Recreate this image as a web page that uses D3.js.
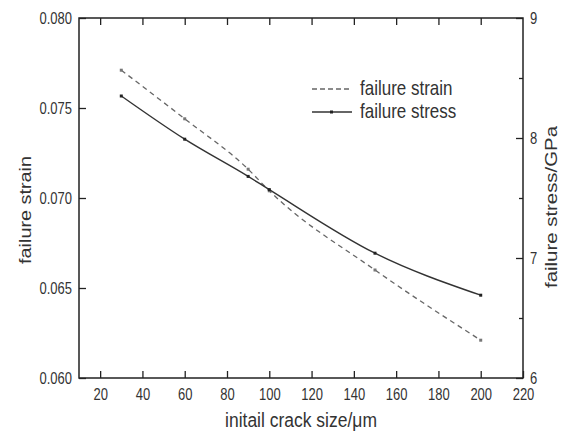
<!DOCTYPE html>
<html><head><meta charset="utf-8">
<script src="https://cdn.jsdelivr.net/npm/d3@7"></script>
<style>body{margin:0;background:#fff;} text{font-family:"Liberation Sans",Arial,sans-serif;fill:#333;}</style>
</head><body><svg id="c" width="563" height="435"></svg>
<script>
const crackSize = [30, 60, 90, 100, 150, 200];
const failureStrain = [0.0771, 0.0744, 0.0716, 0.0704, 0.0660, 0.0621];
const failureStress = [8.35, 7.99, 7.68, 7.57, 7.04, 6.69];
const xTicks = [20, 40, 60, 80, 100, 120, 140, 160, 180, 200, 220];
const yLeftTicks = [0.060, 0.065, 0.070, 0.075, 0.080];
const yRightTicks = [6, 7, 8, 9];
const yRightMinor = [6.5, 7.5, 8.5];
const seriesNames = ["failure strain", "failure stress"];

const svg = d3.select("#c");
const L = 79, R = 523, T = 18, B = 378;
const SY = 1.2; // vertical stretch of glyphs seen in the reference
const x = d3.scaleLinear().domain([10, 220]).range([L, R]);
const yL = d3.scaleLinear().domain([0.060, 0.080]).range([B, T]);
const yR = d3.scaleLinear().domain([6, 9]).range([B, T]);

svg.append("rect").attr("x", L).attr("y", T).attr("width", R - L).attr("height", B - T)
  .attr("fill", "none").attr("stroke", "#222").attr("stroke-width", 1.5);

function styleAxis(g) {
  g.select(".domain").remove();
  g.selectAll(".tick line").attr("stroke", "#222").attr("stroke-width", 1.3);
  g.selectAll(".tick text").attr("font-size", 13).attr("fill", "#333")
    .attr("font-family", "Liberation Sans, Arial, sans-serif");
}
function placeText(g, tx, ty) {
  g.selectAll(".tick text").attr("x", 0).attr("y", 0).attr("dy", 0)
    .attr("transform", `translate(${tx},${ty}) scale(1,${SY})`);
}
svg.append("g").attr("transform", `translate(0,${B})`)
  .call(d3.axisBottom(x).tickValues(xTicks).tickSizeInner(-7).tickSizeOuter(0).tickFormat(d3.format("d")))
  .call(styleAxis).call(g => placeText(g, 0, 22));
svg.append("g").attr("transform", `translate(0,${T})`)
  .call(d3.axisTop(x).tickValues(xTicks.filter(d => d < 220)).tickSizeInner(-7).tickSizeOuter(0).tickFormat(""))
  .call(styleAxis);
svg.append("g").attr("transform", `translate(${L},0)`)
  .call(d3.axisLeft(yL).tickValues(yLeftTicks).tickSizeInner(-7).tickSizeOuter(0).tickFormat(d3.format(".3f")))
  .call(styleAxis).call(g => placeText(g, -7, 5.5));
svg.append("g").attr("transform", `translate(${R},0)`)
  .call(d3.axisRight(yR).tickValues(yRightTicks).tickSizeInner(-7).tickSizeOuter(0).tickFormat(d3.format("d")))
  .call(styleAxis).call(g => placeText(g, 7, 5.5));
svg.append("g").attr("transform", `translate(${R},0)`)
  .call(d3.axisRight(yR).tickValues(yRightMinor).tickSizeInner(-4).tickSizeOuter(0).tickFormat(""))
  .call(styleAxis);

const strainPts = crackSize.map((c, i) => [c, failureStrain[i]]);
const stressPts = crackSize.map((c, i) => [c, failureStress[i]]);

svg.append("path").datum(strainPts)
  .attr("d", d3.line().x(d => x(d[0])).y(d => yL(d[1])).curve(d3.curveMonotoneX))
  .attr("fill", "none").attr("stroke", "#666").attr("stroke-width", 1.3).attr("stroke-dasharray", "5,4");
svg.selectAll(".ms").data(strainPts).enter().append("rect")
  .attr("x", d => x(d[0]) - 1.5).attr("y", d => yL(d[1]) - 1.5).attr("width", 3).attr("height", 3).attr("fill", "#777");

svg.append("path").datum(stressPts)
  .attr("d", d3.line().x(d => x(d[0])).y(d => yR(d[1])).curve(d3.curveMonotoneX))
  .attr("fill", "none").attr("stroke", "#333").attr("stroke-width", 1.4);
svg.selectAll(".mt").data(stressPts).enter().append("rect")
  .attr("x", d => x(d[0]) - 1.5).attr("y", d => yR(d[1]) - 1.5).attr("width", 3).attr("height", 3).attr("fill", "#222");

// legend
svg.append("line").attr("x1", 312).attr("x2", 352).attr("y1", 89).attr("y2", 89)
  .attr("stroke", "#666").attr("stroke-width", 1.3).attr("stroke-dasharray", "5,3");
svg.append("line").attr("x1", 312).attr("x2", 352).attr("y1", 112).attr("y2", 112)
  .attr("stroke", "#333").attr("stroke-width", 1.4);
svg.append("rect").attr("x", 330).attr("y", 110.5).attr("width", 3).attr("height", 3).attr("fill", "#222");
svg.append("text").attr("transform", `translate(360,95) scale(1,${SY})`).attr("font-size", 17).text(seriesNames[0]);
svg.append("text").attr("transform", `translate(360,118) scale(1,${SY})`).attr("font-size", 17).text(seriesNames[1]);

// axis titles
svg.append("text").attr("transform", `translate(${(L + R) / 2},427) scale(1,${SY})`).attr("text-anchor", "middle").attr("font-size", 17.5)
  .text("initail crack size/\u03BCm");
svg.append("text").attr("transform", `translate(31,210) rotate(-90) scale(${SY},1)`).attr("text-anchor", "middle").attr("font-size", 16.5)
  .text("failure strain");
svg.append("text").attr("transform", `translate(557,207) rotate(-90) scale(${SY},1)`).attr("text-anchor", "middle").attr("font-size", 17)
  .text("failure stress/GPa");
</script></body></html>
